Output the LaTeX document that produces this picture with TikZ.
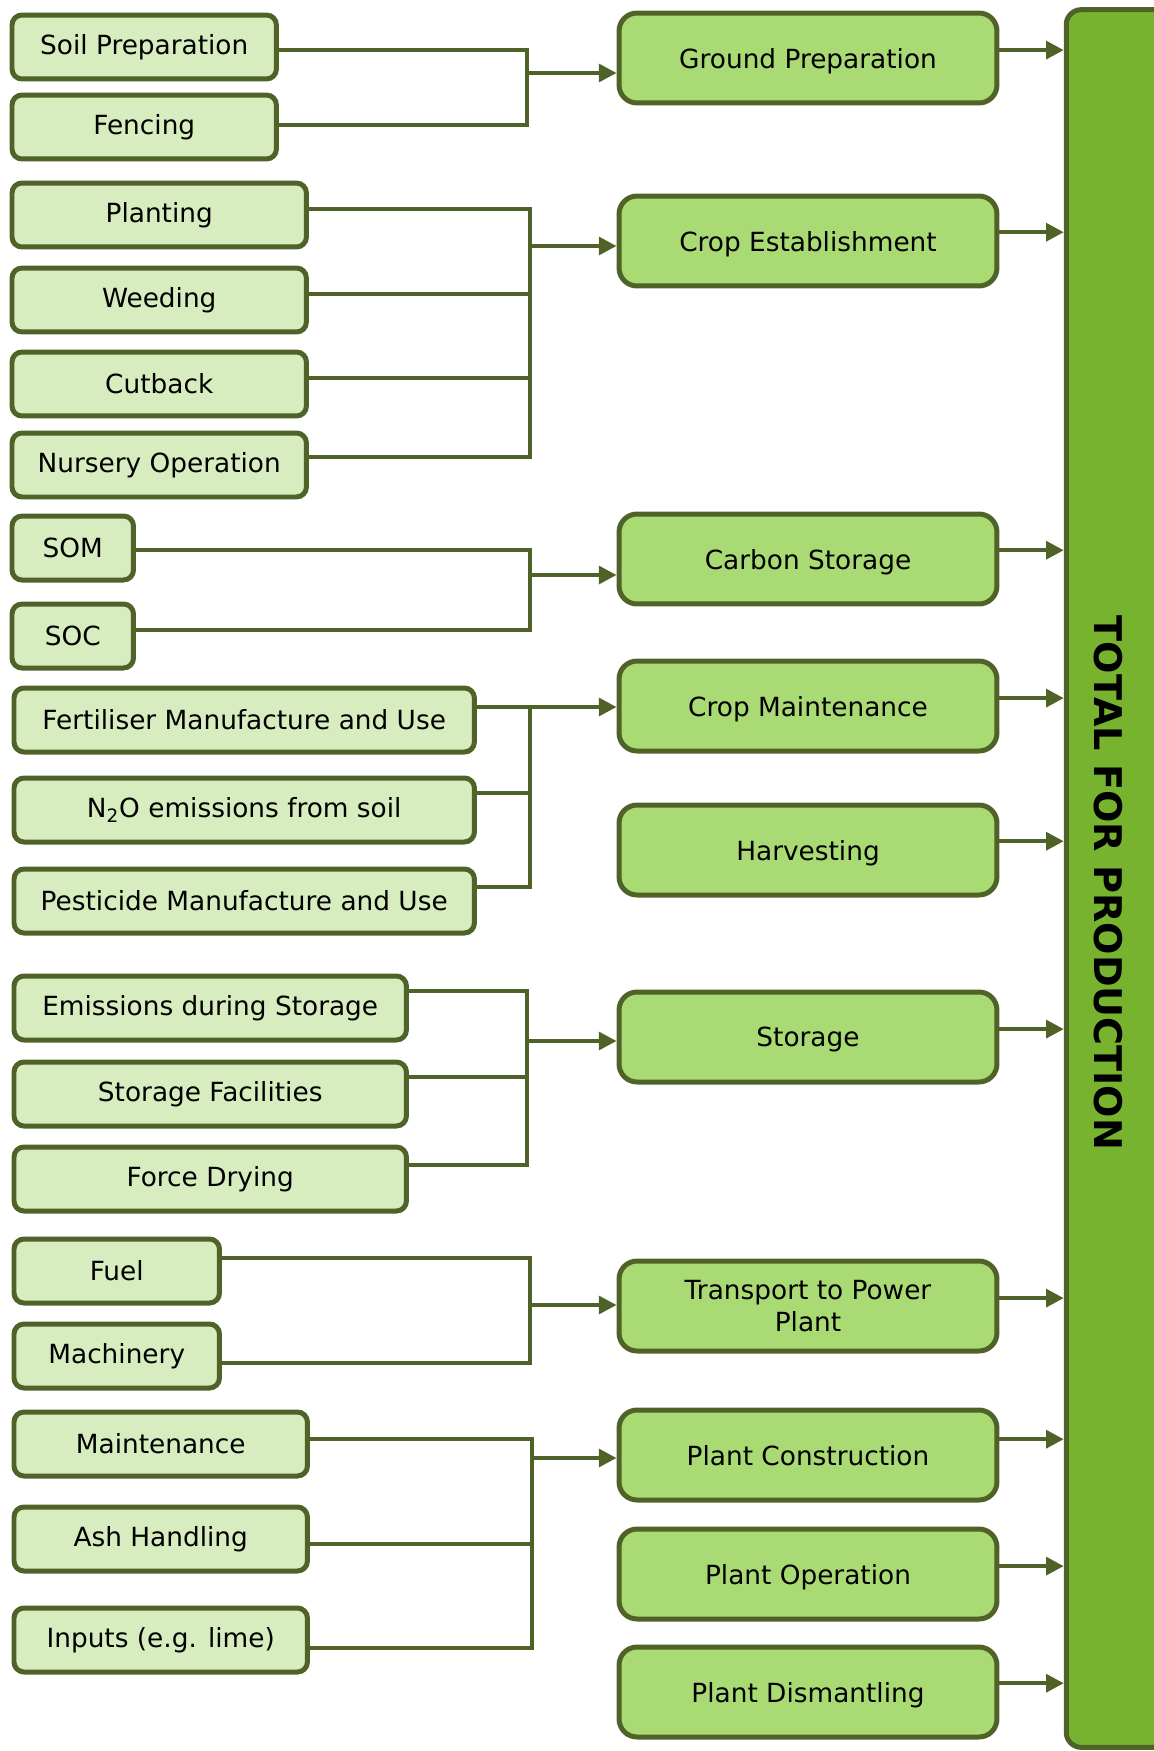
\documentclass[tikz,border=0pt]{standalone}
\usepackage{fontspec}
\setmainfont{DejaVu Sans}
\usetikzlibrary{arrows.meta}
\definecolor{olivedark}{HTML}{4F6228}
\definecolor{leaflight}{HTML}{D7EDC0}
\definecolor{leafmid}{HTML}{A9DA74}
\definecolor{leafbar}{HTML}{77B32F}

\begin{document}
\begin{tikzpicture}[x=0.02cm, y=-0.02cm,
    every node/.style={font=\fontsize{15pt}{18pt}\selectfont, text=black},
    srcbox/.style={draw=olivedark, fill=leaflight, line width=0.1cm, rounded corners=0.2cm,
        minimum height=1.28cm, inner sep=0pt, anchor=west},
    stagebox/.style={draw=olivedark, fill=leafmid, line width=0.1cm, rounded corners=0.36cm,
        minimum width=7.56cm, minimum height=1.8cm, inner sep=0pt, text depth=0pt, align=center},
    link/.style={draw=olivedark, line width=0.08cm},
    arr/.style={link, -{Triangle[length=10pt,width=10pt]}}]
    \useasboundingbox (0,0) rectangle (1153,1751);
    % total bar
    \node [draw=olivedark, fill=leafbar, line width=0.1cm, rounded corners=0.3cm, inner sep=0pt,
        minimum width=2.67cm, minimum height=34.76cm] (total) at (1133,878.5) {};
    \node [rotate=-90, font=\fontsize{21.7pt}{24pt}\selectfont\bfseries] (totaltext) at (1108,883) {TOTAL FOR PRODUCTION};
    % stages
    \node [stagebox] (ground) at (808,58) {Ground Preparation};
    \node [stagebox] (cropest) at (808,241) {Crop Establishment};
    \node [stagebox] (carbon) at (808,559) {Carbon Storage};
    \node [stagebox] (cropmaint) at (808,706) {Crop Maintenance};
    \node [stagebox] (harvest) at (808,850) {Harvesting};
    \node [stagebox] (storage) at (808,1037) {Storage};
    \node [stagebox] (transport) at (808,1306) {Transport to Power\\Plant};
    \node [stagebox] (plantcons) at (808,1455) {Plant Construction};
    \node [stagebox] (plantop) at (808,1574) {Plant Operation};
    \node [stagebox] (plantdis) at (808,1692) {Plant Dismantling};
    % sources
    \node [srcbox, minimum width=5.29cm] (soilprep) at (9.5,47) {Soil Preparation};
    \node [srcbox, minimum width=5.29cm] (fencing) at (9.5,127) {Fencing};
    \node [srcbox, minimum width=5.89cm] (planting) at (9.5,215) {Planting};
    \node [srcbox, minimum width=5.89cm] (weeding) at (9.5,300) {Weeding};
    \node [srcbox, minimum width=5.89cm] (cutback) at (9.5,384) {Cutback};
    \node [srcbox, minimum width=5.89cm] (nursery) at (9.5,465) {Nursery Operation};
    \node [srcbox, minimum width=2.43cm] (som) at (9.5,548) {SOM};
    \node [srcbox, minimum width=2.43cm] (soc) at (9.5,636) {SOC};
    \node [srcbox, minimum width=9.21cm] (fert) at (11.5,720) {Fertiliser Manufacture and Use};
    \node [srcbox, minimum width=9.21cm] (ntwoo) at (11.5,810) {N\textsubscript{2}O emissions from soil};
    \node [srcbox, minimum width=9.21cm] (pest) at (11.5,901) {Pesticide Manufacture and Use};
    \node [srcbox, minimum width=7.85cm] (emstore) at (11.5,1008) {Emissions during Storage};
    \node [srcbox, minimum width=7.85cm] (storefac) at (11.5,1094) {Storage Facilities};
    \node [srcbox, minimum width=7.85cm] (forcedry) at (11.5,1179) {Force Drying};
    \node [srcbox, minimum width=4.11cm] (fuel) at (11.5,1271) {Fuel};
    \node [srcbox, minimum width=4.11cm] (machinery) at (11.5,1356) {Machinery};
    \node [srcbox, minimum width=5.87cm] (maint) at (11.5,1444) {Maintenance};
    \node [srcbox, minimum width=5.87cm] (ash) at (11.5,1539) {Ash Handling};
    \node [srcbox, minimum width=5.87cm] (inputs) at (11.5,1640) {Inputs (e.g. lime)};
    % joints
    \coordinate (j1) at (527,73);
    \coordinate (j2) at (530,246);
    \coordinate (j3) at (530,575);
    \coordinate (j4) at (530,707);
    \coordinate (j5) at (527,1041);
    \coordinate (j6) at (530,1305);
    \coordinate (j7) at (532,1458);
    % brackets
    \draw [link] ([yshift=-1.7pt]soilprep.east) -| (j1);
    \draw [link] ([yshift=1.1pt]fencing.east) -| (j1);
    \draw [link] ([yshift=3.4pt]planting.east) -| (j2);
    \draw [link] ([yshift=3.4pt]weeding.east) -| (j2);
    \draw [link] ([yshift=3.4pt]cutback.east) -| (j2);
    \draw [link] ([yshift=4.5pt]nursery.east) -| (j2);
    \draw [link] ([yshift=-1.1pt]som.east) -| (j3);
    \draw [link] ([yshift=3.4pt]soc.east) -| (j3);
    \draw [link] ([yshift=7.4pt]fert.east) -| (j4);
    \draw [link] ([yshift=9.6pt]ntwoo.east) -| (j4);
    \draw [link] ([yshift=7.9pt]pest.east) -| (j4);
    \draw [link] ([yshift=9.6pt]emstore.east) -| (j5);
    \draw [link] ([yshift=9.6pt]storefac.east) -| (j5);
    \draw [link] ([yshift=7.9pt]forcedry.east) -| (j5);
    \draw [link] ([yshift=7.4pt]fuel.east) -| (j6);
    \draw [link] ([yshift=-4pt]machinery.east) -| (j6);
    \draw [link] ([yshift=2.8pt]maint.east) -| (j7);
    \draw [link] ([yshift=-2.8pt]ash.east) -| (j7);
    \draw [link] ([yshift=-4.5pt]inputs.east) -| (j7);
    % into stages
    \draw [arr] (j1) -- (j1 -| ground.west);
    \draw [arr] (j2) -- (j2 -| cropest.west);
    \draw [arr] (j3) -- (j3 -| carbon.west);
    \draw [arr] (j4) -- (j4 -| cropmaint.west);
    \draw [arr] (j5) -- (j5 -| storage.west);
    \draw [arr] (j6) -- (j6 -| transport.west);
    \draw [arr] (j7) -- (j7 -| plantcons.west);
    % into total
    \draw [arr] ([yshift=4.5pt]ground.east) -- ([yshift=4.5pt]ground.east -| total.west);
    \draw [arr] ([yshift=5pt]cropest.east) -- ([yshift=5pt]cropest.east -| total.west);
    \draw [arr] ([yshift=5pt]carbon.east) -- ([yshift=5pt]carbon.east -| total.west);
    \draw [arr] ([yshift=4.5pt]cropmaint.east) -- ([yshift=4.5pt]cropmaint.east -| total.west);
    \draw [arr] ([yshift=5pt]harvest.east) -- ([yshift=5pt]harvest.east -| total.west);
    \draw [arr] ([yshift=4.5pt]storage.east) -- ([yshift=4.5pt]storage.east -| total.west);
    \draw [arr] ([yshift=4.5pt]transport.east) -- ([yshift=4.5pt]transport.east -| total.west);
    \draw [arr] ([yshift=9pt]plantcons.east) -- ([yshift=9pt]plantcons.east -| total.west);
    \draw [arr] ([yshift=4.5pt]plantop.east) -- ([yshift=4.5pt]plantop.east -| total.west);
    \draw [arr] ([yshift=5pt]plantdis.east) -- ([yshift=5pt]plantdis.east -| total.west);
\end{tikzpicture}
\end{document}
